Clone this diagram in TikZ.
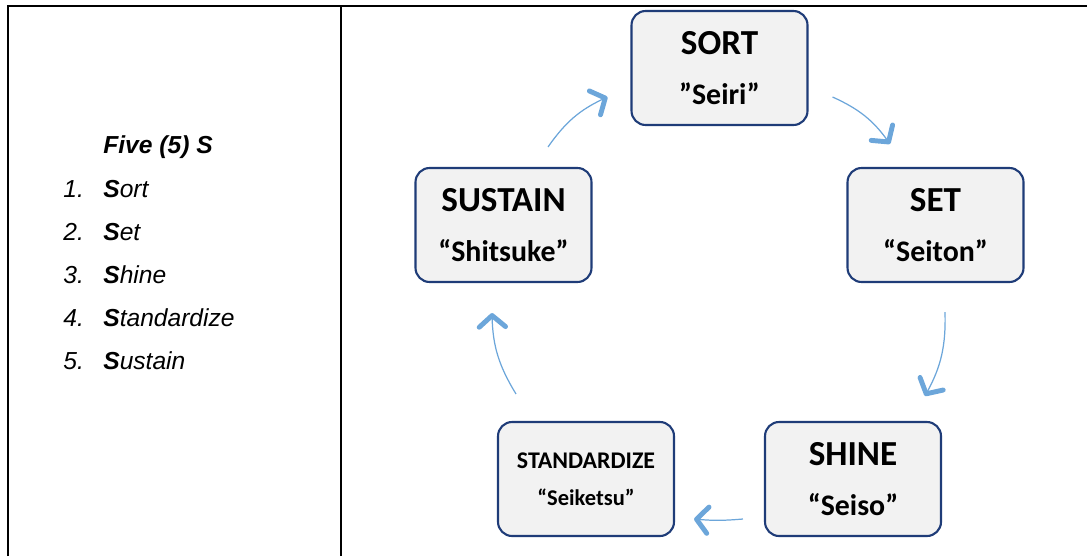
\documentclass[tikz,border=0pt]{standalone}
\usepackage{fontspec}
\setmainfont{Liberation Sans}
\newfontfamily\calfont{Carlito}
\usetikzlibrary{arrows.meta,calc}
\definecolor{boxline}{RGB}{31,60,120}
\definecolor{boxfill}{RGB}{242,242,242}
\definecolor{flowblue}{RGB}{108,166,218}

\begin{document}
\begin{tikzpicture}[x=0.02cm,y=0.02cm,
  box/.style={draw=boxline,line width=1.2pt,fill=boxfill,rounded corners=8pt,
    minimum width=3.52cm,minimum height=2.28cm,align=center,font=\calfont\bfseries},
  flow/.style={draw=flowblue,line width=0.7pt,
    -{Straight Barb[length=6.5pt,width=15pt,line width=2.8pt,round]}},
  item/.style={anchor=base west,inner sep=0pt,font=\fontsize{14}{16}\selectfont\itshape}
]
\useasboundingbox (0,0) rectangle (1087,556);
% table
\draw[line width=1.4pt] (8,0) -- (8,550) -- (1087,550);
\draw[line width=1.4pt] (341,0) -- (341,550);

% left column
\node[item,font=\fontsize{14}{16}\selectfont\bfseries\itshape] (title) at (103,403) {Five (5) S};
\foreach \w [count=\i] in {ort,et,hine,tandardize,ustain} {
  \node[item] (num\i) at (63,402-43*\i) {\i.};
  \node[item] (word\i) at (103,402-43*\i) {\textbf{S}\w};
}

% the cycle
\node[box] (sort) at (719.5,488) {\fontsize{20}{24}\selectfont SORT\\[15pt]\fontsize{17}{20}\selectfont ”Seiri”};
\node[box] (set) at (935.5,331) {\fontsize{20}{24}\selectfont SET\\[15pt]\fontsize{17}{20}\selectfont “Seiton”};
\node[box] (shine) at (853,77) {\fontsize{20}{24}\selectfont SHINE\\[15pt]\fontsize{17}{20}\selectfont “Seiso”};
\node[box] (stand) at (586,77) {\fontsize{13.6}{16}\selectfont STANDARDIZE\\[9pt]\fontsize{12.8}{15}\selectfont “Seiketsu”};
\node[box] (sust) at (503.5,331) {\fontsize{20}{24}\selectfont SUSTAIN\\[15pt]\fontsize{17}{20}\selectfont “Shitsuke”};

\draw[flow] ($(sust.north)+(44.5,20)$) to[bend left=15] ($(sort.west)+(-23,-29)$);
\draw[flow] ($(sort.east)+(24,-29)$) to[bend left=15] ($(set.north)+(-45.5,23)$);
\draw[flow] ($(set.south)+(9.5,-29)$) to[bend left=15] ($(shine.north)+(72,25)$);
\draw[flow] ($(shine.west)+(-21,-40)$) to[bend left=5] ($(stand.east)+(19,-40)$);
\draw[flow] ($(stand.north)+(-70,27)$) to[bend left=15] ($(sust.south)+(-11.5,-30)$);
\end{tikzpicture}
\end{document}
